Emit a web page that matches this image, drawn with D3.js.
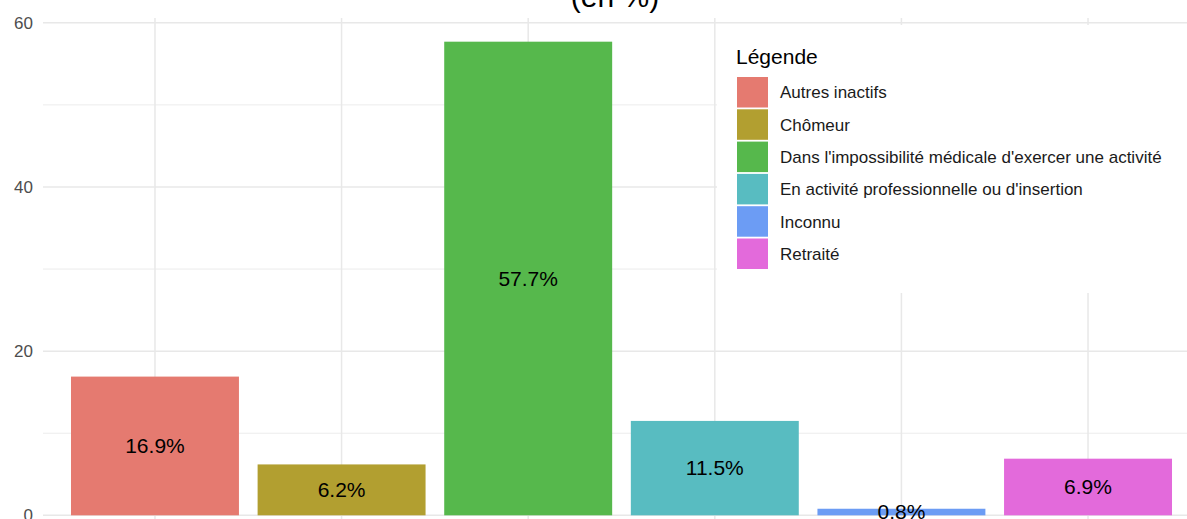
<!DOCTYPE html>
<html>
<head>
<meta charset="utf-8">
<script src="https://cdn.jsdelivr.net/npm/d3@7"></script>
<style>
  html, body { margin: 0; padding: 0; background: #ffffff; }
  svg { display: block; font-family: "Liberation Sans", Arial, sans-serif; }
</style>
</head>
<body>
<svg id="chart" width="1187" height="519"></svg>
<script>
// Répartition par situation professionnelle (en %)
const categories = [
  "Autres inactifs",
  "Chômeur",
  "Dans l'impossibilité médicale d'exercer une activité",
  "En activité professionnelle ou d'insertion",
  "Inconnu",
  "Retraité"
];
const values = [16.9, 6.2, 57.7, 11.5, 0.8, 6.9];
const colors = ["#E57A70", "#B29F30", "#56B84C", "#58BCC1", "#6C9CF4", "#E36ADB"];
const majorTicks = [0, 20, 40, 60];
const minorTicks = [10, 30, 50];
const titleText = "(en %)";
const legendTitle = "Légende";

const svg = d3.select("#chart");

// Panel extent
const panel = { left: 43, right: 1200, top: 18, bottom: 539 };
const yMax = d3.max(values);
const pad = yMax * 0.05;

const x = d3.scaleBand()
  .domain(categories)
  .range([panel.left, panel.right])
  .paddingInner(0.1)
  .paddingOuter(0.15);

const y = d3.scaleLinear()
  .domain([-pad, yMax + pad])
  .range([panel.bottom, panel.top]);

const color = d3.scaleOrdinal().domain(categories).range(colors);

// Grid
const grid = svg.append("g");
grid.selectAll("line.minor")
  .data(minorTicks)
  .join("line")
  .attr("x1", panel.left).attr("x2", panel.right)
  .attr("y1", d => y(d)).attr("y2", d => y(d))
  .attr("stroke", "#ececec").attr("stroke-width", 1);
grid.selectAll("line.major")
  .data(majorTicks)
  .join("line")
  .attr("x1", panel.left).attr("x2", panel.right)
  .attr("y1", d => y(d)).attr("y2", d => y(d))
  .attr("stroke", "#e8e8e8").attr("stroke-width", 1.5);
grid.selectAll("line.vert")
  .data(categories)
  .join("line")
  .attr("x1", d => x(d) + x.bandwidth() / 2).attr("x2", d => x(d) + x.bandwidth() / 2)
  .attr("y1", panel.top).attr("y2", panel.bottom)
  .attr("stroke", "#e8e8e8").attr("stroke-width", 1.5);

// Y axis labels
svg.append("g")
  .attr("transform", `translate(${panel.left - 10},0)`)
  .call(d3.axisLeft(y).tickValues(majorTicks).tickSize(0).tickPadding(0))
  .call(g => g.select(".domain").remove())
  .call(g => g.selectAll("text")
    .attr("font-size", 17)
    .attr("font-family", "Liberation Sans, Arial, sans-serif")
    .attr("fill", "#4d4d4d"));

// Legend background box (drawn under bars)
const legend = svg.append("g");
legend.append("rect")
  .attr("x", 717).attr("y", 25)
  .attr("width", 500).attr("height", 268)
  .attr("fill", "#ffffff");

// Bars
svg.append("g")
  .selectAll("rect")
  .data(categories)
  .join("rect")
  .attr("x", d => x(d))
  .attr("width", x.bandwidth())
  .attr("y", (d, i) => y(values[i]))
  .attr("height", (d, i) => y(0) - y(values[i]))
  .attr("fill", d => color(d));

// Value labels, centred in each bar
svg.append("g")
  .selectAll("text")
  .data(categories)
  .join("text")
  .attr("x", d => x(d) + x.bandwidth() / 2)
  .attr("y", (d, i) => y(values[i] / 2))
  .attr("dy", "0.35em")
  .attr("text-anchor", "middle")
  .attr("font-size", 21)
  .attr("fill", "#000000")
  .text((d, i) => values[i].toFixed(1) + "%");

// Title (partially above the visible area)
svg.append("text")
  .attr("x", 615).attr("y", 7)
  .attr("text-anchor", "middle")
  .attr("font-size", 30)
  .attr("fill", "#000000")
  .text(titleText);

// Legend
legend.append("text")
  .attr("x", 736).attr("y", 64)
  .attr("font-size", 21)
  .attr("fill", "#000000")
  .text(legendTitle);

const keyStep = 32.3;
const items = legend.selectAll("g.item")
  .data(categories)
  .join("g")
  .attr("transform", (d, i) => `translate(737,${77 + i * keyStep})`);
items.append("rect")
  .attr("width", 31).attr("height", 30.5)
  .attr("fill", d => color(d));
items.append("text")
  .attr("x", 43).attr("y", 15.5)
  .attr("dy", "0.35em")
  .attr("font-size", 17)
  .attr("fill", "#1a1a1a")
  .text(d => d);
</script>
</body>
</html>
